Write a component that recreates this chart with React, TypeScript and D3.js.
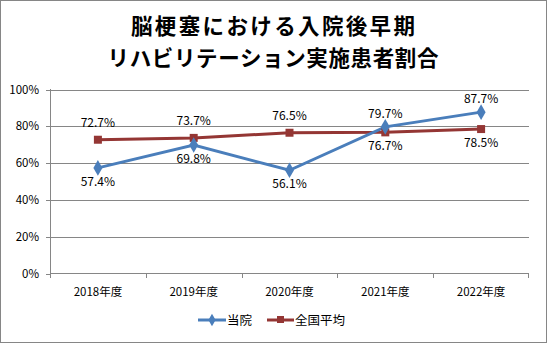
import React from "react";
import * as d3 from "d3";

const categories = ["2018年度", "2019年度", "2020年度", "2021年度", "2022年度"];
const hospital = [57.4, 69.8, 56.1, 79.7, 87.7];
const national = [72.7, 73.7, 76.5, 76.7, 78.5];
const hospitalLabelPos = ["below", "below", "below", "above", "above"];
const nationalLabelPos = ["above", "above", "above", "below", "below"];
const yTicks = [0, 20, 40, 60, 80, 100];
const titleLines = ["脳梗塞における入院後早期", "リハビリテーション実施患者割合"];
const seriesNames = ["当院", "全国平均"];

const W = 547, H = 343;
const BLUE = "#4A7EBB";
const RED = "#943634";
const FONT = "'Noto Sans CJK JP', 'Noto Sans', sans-serif";
const titleWidths = [284, 331];

export default function App() {
  const x = d3.scaleBand<string>().domain(categories).range([50, 529]);
  const y = d3.scaleLinear().domain([0, 100]).range([273.5, 89.5]);
  const cx = (c: string) => (x(c) as number) + x.bandwidth() / 2;
  const line = d3.line<number>().x((_, i) => cx(categories[i])).y((d) => y(d));
  const diamond = d3.symbol().type(d3.symbolDiamond).size(70);

  return (
    <svg width={W} height={H} style={{ position: "absolute", left: 0, top: 0 }} fontFamily={FONT}>
      <rect x={0.5} y={0.5} width={W - 1} height={H - 1} fill="#fff" stroke="#868686" />
      {titleLines.map((t, i) => (
        <text key={i} x={273 - titleWidths[i] / 2} y={34 + i * 31.5} textLength={titleWidths[i]} lengthAdjust="spacing" fontSize={21.5} fontWeight="bold" fill="#000">
          {t}
        </text>
      ))}
      {yTicks.map((t) => (
        <g key={t}>
          {t > 0 && <line x1={50} x2={529} y1={Math.round(y(t)) + 0.5} y2={Math.round(y(t)) + 0.5} stroke="#868686" />}
          <line x1={46} x2={50} y1={Math.round(y(t)) + 0.5} y2={Math.round(y(t)) + 0.5} stroke="#868686" />
          <text x={39} y={y(t) + 4} textAnchor="end" fontSize={11.5} fill="#000">{t}%</text>
        </g>
      ))}
      <line x1={50.5} x2={50.5} y1={89} y2={274} stroke="#868686" />
      <line x1={50} x2={529} y1={273.5} y2={273.5} stroke="#868686" />
      {categories.map((c, i) => (
        <g key={c}>
          <line x1={Math.round(x(c) as number) + 0.5} x2={Math.round(x(c) as number) + 0.5} y1={273} y2={278} stroke="#868686" />
          {i === categories.length - 1 && <line x1={528.5} x2={528.5} y1={273} y2={278} stroke="#868686" />}
          <text x={cx(c)} y={296} textAnchor="middle" fontSize={11.5} fill="#000">{c}</text>
        </g>
      ))}
      <path d={line(national) || ""} fill="none" stroke={RED} strokeWidth={3} />
      <path d={line(hospital) || ""} fill="none" stroke={BLUE} strokeWidth={3} />
      {national.map((v, i) => (
        <rect key={i} x={cx(categories[i]) - 4} y={y(v) - 4} width={8} height={8} fill={RED} />
      ))}
      {hospital.map((v, i) => (
        <path key={i} d={diamond() || ""} transform={`translate(${cx(categories[i])},${y(v)})`} fill={BLUE} />
      ))}
      {hospital.map((v, i) => (
        <text key={i} x={cx(categories[i])} y={hospitalLabelPos[i] === "below" ? y(v) + 18 : y(v) - 9} textAnchor="middle" fontSize={12} fill="#000">
          {v.toFixed(1)}%
        </text>
      ))}
      {national.map((v, i) => (
        <text key={i} x={cx(categories[i])} y={nationalLabelPos[i] === "below" ? y(v) + 18 : y(v) - 13} textAnchor="middle" fontSize={12} fill="#000">
          {v.toFixed(1)}%
        </text>
      ))}
      <g>
        <line x1={198} x2={226} y1={320} y2={320} stroke={BLUE} strokeWidth={3} />
        <path d={d3.symbol().type(d3.symbolDiamond).size(45)() || ""} transform="translate(212,320)" fill={BLUE} />
        <text x={227} y={324.5} fontSize={12.5} fill="#000">{seriesNames[0]}</text>
        <line x1={267} x2={294} y1={320} y2={320} stroke={RED} strokeWidth={3} />
        <rect x={277} y={316} width={7} height={7} fill={RED} />
        <text x={295} y={324.5} fontSize={12.5} fill="#000">{seriesNames[1]}</text>
      </g>
    </svg>
  );
}
